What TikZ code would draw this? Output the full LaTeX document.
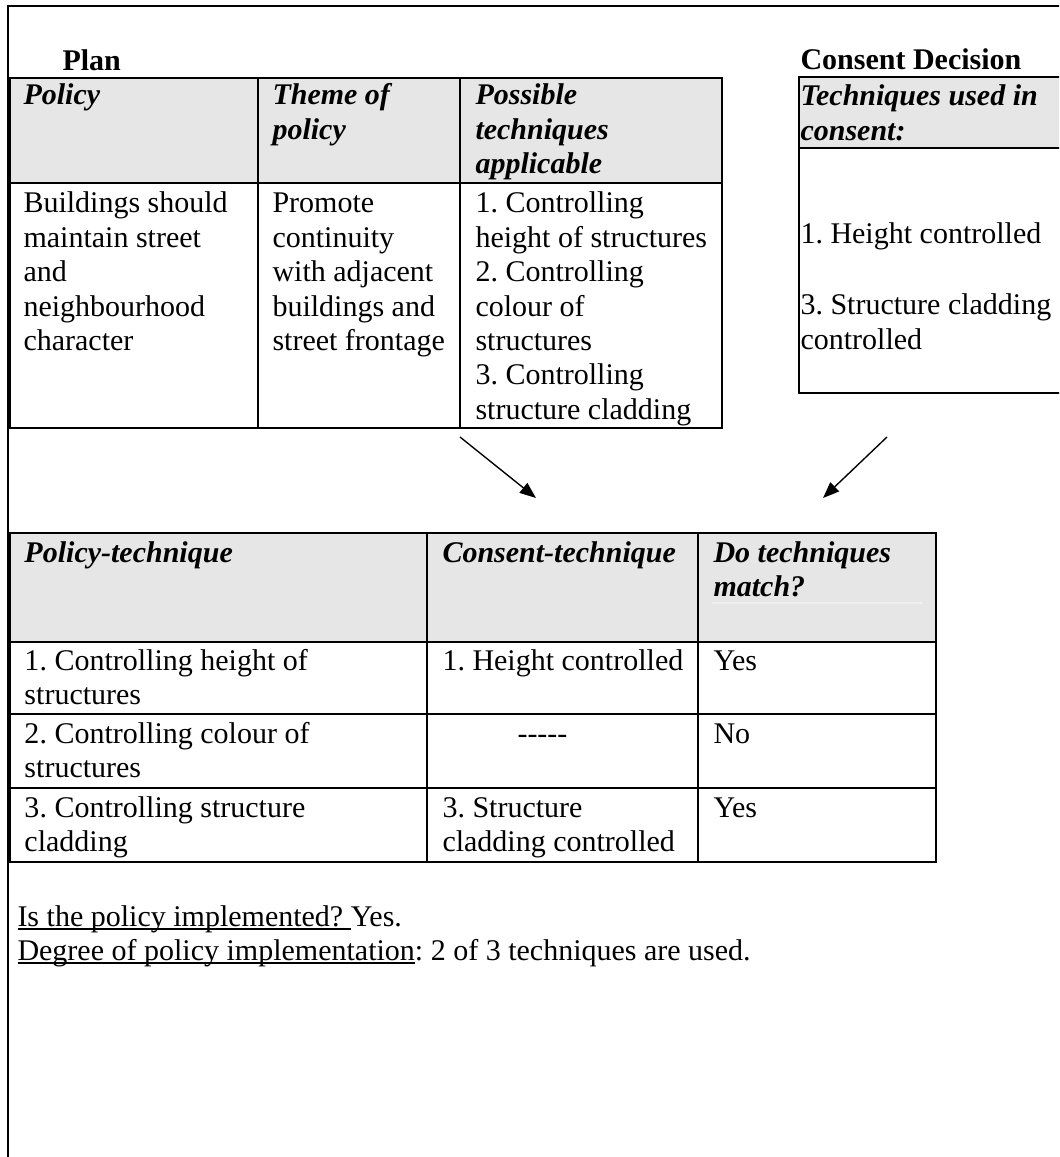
\documentclass[tikz,border=0pt]{standalone}
\usepackage{fontspec}
\setmainfont{Liberation Serif}
\usetikzlibrary{arrows.meta}
\definecolor{hdrgray}{RGB}{230,230,230}
\definecolor{faintline}{RGB}{240,240,240}
\newcommand\myul[1]{\setbox0\hbox{#1}\rlap{\rule[-1.6pt]{\wd0}{0.7pt}}\box0}
\frenchspacing
\begin{document}
\begin{tikzpicture}[x=0.4pt,y=-0.4pt,
  txt/.style={font=\fontsize{12}{13.76}\selectfont\frenchspacing, inner sep=0pt, anchor=base west, align=left},
  hd/.style={txt, font=\fontsize{12}{13.76}\selectfont\frenchspacing\bfseries\itshape},
  ttl/.style={txt, font=\fontsize{12}{13.76}\selectfont\bfseries},
  rule/.style={line width=0.8pt, draw=black},
  frame/.style={line width=0.75pt, draw=black},
  faint/.style={line width=0.5pt, draw=faintline},
  arr/.style={line width=0.55pt, -{Triangle[length=6.5pt,width=5pt]}}]
\useasboundingbox (0,0) rectangle (1059,1157);
\clip (0,0) rectangle (1059,1157);

% outer frame
\draw[frame] (8,1170) -- (8,6) -- (1070,6);

% ---------- Plan table ----------
% (multi-line nodes are placed at the baseline of their LAST line)
\fill[hdrgray] (10,78) rectangle (722,183);
\draw[rule] (10,78) rectangle (722,428);
\draw[rule] (10,183) -- (722,183);
\draw[rule] (258,78) -- (258,428);
\draw[rule] (460,78) -- (460,428);

\node[ttl] (plan) at (62,70.5) {Plan};
\node[hd] (h11) at (23,105) {Policy};
\node[hd] (h12) at (272,139.4) {Theme of\\policy};
\node[hd] (h13) at (475,173.8) {Possible\\techniques\\applicable};
\node[txt] (b11) at (23,350.6) {Buildings should\\maintain street\\and\\neighbourhood\\character};
\node[txt] (b12) at (272,350.6) {Promote\\continuity\\with adjacent\\buildings and\\street frontage};
\node[txt] (b13) at (475,419.4) {1. Controlling\\height of structures\\2. Controlling\\colour of\\structures\\3. Controlling\\structure cladding};

% ---------- Consent decision box ----------
\fill[hdrgray] (799,77) rectangle (1070,148);
\draw[rule] (1070,77) -- (799,77) -- (799,393) -- (1070,393);
\draw[rule] (799,148) -- (1070,148);
\node[ttl] (cons) at (800,70) {Consent Decision};
\node[hd] (ch) at (800,140.4) {Techniques used in\\consent:};
\node[txt] (c1) at (800,244) {1. Height controlled};
\node[txt] (c3) at (800,349.4) {3. Structure cladding\\controlled};

% ---------- arrows ----------
\coordinate (a1s) at (460,437);
\coordinate (a1e) at (536,498);
\coordinate (a2s) at (887,437);
\coordinate (a2e) at (823,498);
\draw[arr] (a1s) -- (a1e);
\draw[arr] (a2s) -- (a2e);

% ---------- comparison table ----------
\fill[hdrgray] (9.5,533) rectangle (936,642);
\draw[faint] (712,603) -- (922,603);
\draw[rule] (9.5,533) rectangle (936,862);
\draw[rule] (9.5,642) -- (936,642);
\draw[rule] (9.5,714) -- (936,714);
\draw[rule] (9.5,788) -- (936,788);
\draw[rule] (427,533) -- (427,862);
\draw[rule] (698,533) -- (698,862);

\node[hd] (t1) at (24,562) {Policy-technique};
\node[hd] (t2) at (442,562) {Consent-technique};
\node[hd] (t3) at (713,596.4) {Do techniques\\match?};
\node[txt] (r11) at (24,704.4) {1. Controlling height of\\structures};
\node[txt] (r12) at (442,670) {1. Height controlled};
\node[txt] (r13) at (713,670) {Yes};
\node[txt] (r21) at (24,777.4) {2. Controlling colour of\\structures};
\node[txt] (r22) at (517,743) {-{}-{}-{}-{}-};
\node[txt] (r23) at (713,743) {No};
\node[txt] (r31) at (24,851.4) {3. Controlling structure\\cladding};
\node[txt] (r32) at (442,851.4) {3. Structure\\cladding controlled};
\node[txt] (r33) at (713,817) {Yes};

% ---------- conclusion ----------
\node[txt] (q1) at (17,926) {\myul{Is the policy implemented? }Yes.};
\node[txt] (q2) at (17,960) {\myul{Degree of policy implementation}: 2 of 3 techniques are used.};
\end{tikzpicture}
\end{document}
